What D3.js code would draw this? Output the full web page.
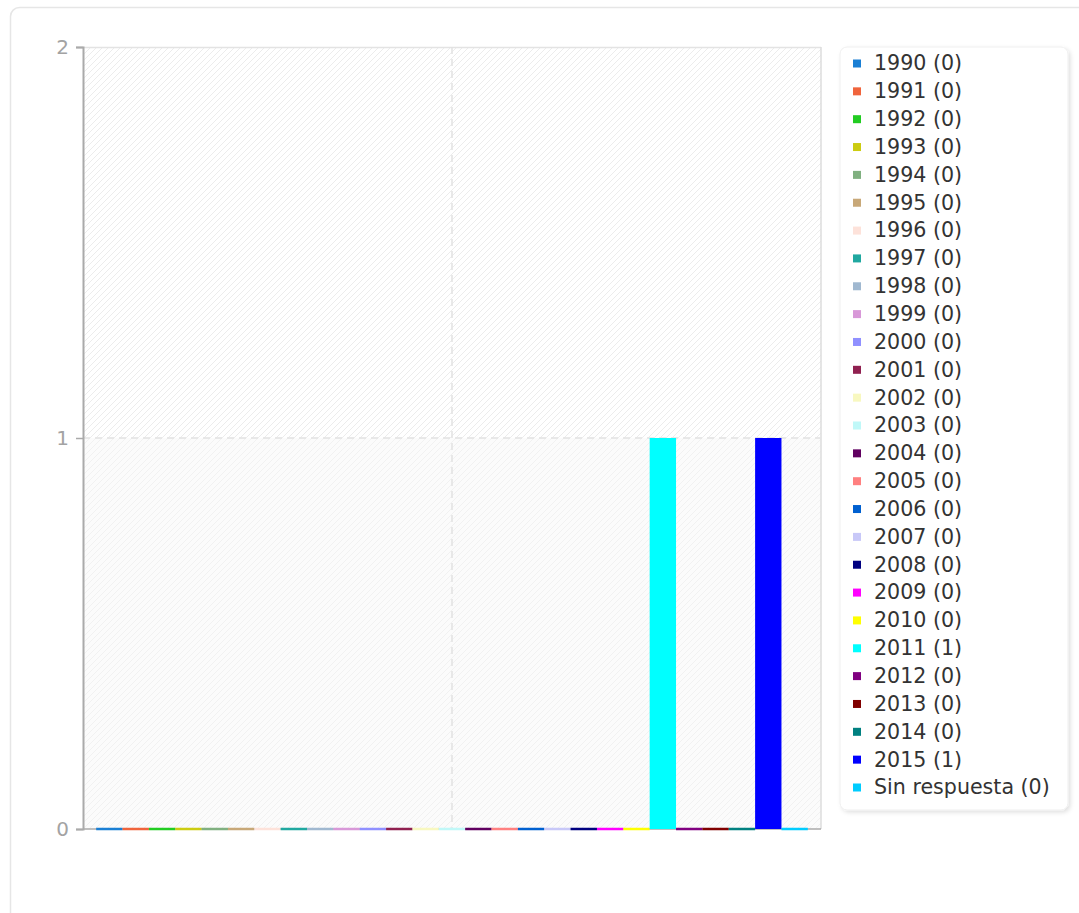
<!DOCTYPE html>
<html><head><meta charset="utf-8">
<script src="https://cdn.jsdelivr.net/npm/d3@7/dist/d3.min.js"></script>
<style>
html,body{margin:0;padding:0;background:#fff;}
svg{display:block;font-family:"DejaVu Sans",Verdana,sans-serif;}
</style></head>
<body>
<svg id="chart" width="1079" height="913"></svg>
<script>
const categories = ["1990","1991","1992","1993","1994","1995","1996","1997","1998","1999","2000","2001","2002","2003","2004","2005","2006","2007","2008","2009","2010","2011","2012","2013","2014","2015","Sin respuesta"];
const values = [0,0,0,0,0,0,0,0,0,0,0,0,0,0,0,0,0,0,0,0,0,1,0,0,0,1,0];
const colors = ["#1a7fd4","#f0643c","#22cc22","#cccc11","#80b080","#c8a878","#fde2da","#20a8a0","#a0b8d0","#d898d8","#9090ff","#902050","#f8f8c0","#c0f8f8","#600060","#ff8080","#0060d0","#c8c8f8","#000080","#ff00ff","#ffff00","#00ffff","#800080","#800000","#008080","#0000ff","#00ccff"];
const yTicks = [0,1,2];

const svg = d3.select("#chart");
const W = 1079, H = 913;
const plot = {left:83, right:821, top:47, bottom:829};

// outer container
svg.append("rect").attr("x",10.5).attr("y",7.5).attr("width",W+20).attr("height",H+20)
  .attr("rx",9).attr("fill","#fff").attr("stroke","#e6e6e6").attr("stroke-width",1.5);

const defs = svg.append("defs");
function hatch(id,bg,line){
  const p = defs.append("pattern").attr("id",id).attr("patternUnits","userSpaceOnUse")
    .attr("width",6).attr("height",6);
  p.append("rect").attr("width",6).attr("height",6).attr("fill",bg);
  p.append("path").attr("d","M-1,1 L1,-1 M0,6 L6,0 M5,7 L7,5").attr("stroke",line).attr("stroke-width",1);
}
hatch("hatchTop","#ffffff","#ececec");
hatch("hatchBot","#fbfbfb","#f1f1f1");
const sh = defs.append("filter").attr("id","shadow").attr("x","-10%").attr("y","-10%").attr("width","130%").attr("height","130%");
sh.append("feDropShadow").attr("dx",2).attr("dy",2).attr("stdDeviation",2).attr("flood-color","#000").attr("flood-opacity",0.12);

const x = d3.scaleBand().domain(categories).range([plot.left, plot.right]).paddingInner(0).paddingOuter(0.5);
const y = d3.scaleLinear().domain([0,2]).range([plot.bottom, plot.top]);

// background bands
svg.append("rect").attr("x",plot.left).attr("y",y(2)).attr("width",plot.right-plot.left).attr("height",y(1)-y(2)).attr("fill","url(#hatchTop)");
svg.append("rect").attr("x",plot.left).attr("y",y(1)).attr("width",plot.right-plot.left).attr("height",y(0)-y(1)).attr("fill","url(#hatchBot)");

// borders
svg.append("line").attr("x1",plot.left).attr("x2",plot.right).attr("y1",plot.top+0.5).attr("y2",plot.top+0.5).attr("stroke","#e3e3e3").attr("stroke-width",1.5);
svg.append("line").attr("x1",plot.right).attr("x2",plot.right).attr("y1",plot.top).attr("y2",plot.bottom).attr("stroke","#dcdcdc").attr("stroke-width",1.5);

// grid
svg.append("line").attr("x1",plot.left).attr("x2",plot.right).attr("y1",y(1)).attr("y2",y(1))
  .attr("stroke","#e2e2e2").attr("stroke-width",1.5).attr("stroke-dasharray","7,5");
svg.append("line").attr("x1",(plot.left+plot.right)/2).attr("x2",(plot.left+plot.right)/2).attr("y1",plot.top).attr("y2",plot.bottom)
  .attr("stroke","#e2e2e2").attr("stroke-width",1.5).attr("stroke-dasharray","7,5");

// x baseline
svg.append("line").attr("x1",plot.left).attr("x2",plot.right).attr("y1",plot.bottom).attr("y2",plot.bottom).attr("stroke","#aaa").attr("stroke-width",1.5);

// y axis
const yAxis = svg.append("g").attr("transform",`translate(${plot.left},0)`)
  .call(d3.axisLeft(y).tickValues(yTicks).tickFormat(d3.format("d")).tickSize(7).tickPadding(7));
yAxis.select(".domain").attr("stroke","#aaa").attr("stroke-width",2);
yAxis.selectAll(".tick line").attr("stroke","#aaa").attr("stroke-width",1.5);
yAxis.selectAll(".tick text").attr("fill","#a3a3a3").attr("font-size",20).attr("font-family","DejaVu Sans, sans-serif");

// bars
svg.append("g").selectAll("rect").data(categories).join("rect")
  .attr("x",d=>x(d)).attr("width",x.bandwidth())
  .attr("y",(d,i)=>values[i]>0 ? y(values[i]) : y(0)-1.25)
  .attr("height",(d,i)=>values[i]>0 ? y(0)-y(values[i]) : 2.5)
  .attr("fill",(d,i)=>colors[i]);

// legend
const lg = svg.append("g");
lg.append("rect").attr("x",840).attr("y",47).attr("width",228).attr("height",763).attr("rx",7)
  .attr("fill","#fff").attr("stroke","#efefef").attr("filter","url(#shadow)");
const ly = d3.scalePoint().domain(categories).range([63,787]);
const items = lg.selectAll("g.item").data(categories).join("g").attr("class","item")
  .attr("transform",d=>`translate(0,${ly(d)})`);
items.append("rect").attr("x",853).attr("y",-3.5).attr("width",8).attr("height",8).attr("fill",(d,i)=>colors[i]);
items.append("text").attr("x",874).attr("y",0).attr("dy","0.36em").attr("font-size",20.6).attr("fill","#333")
  .text((d,i)=>`${d} (${values[i]})`);
</script>
</body></html>
